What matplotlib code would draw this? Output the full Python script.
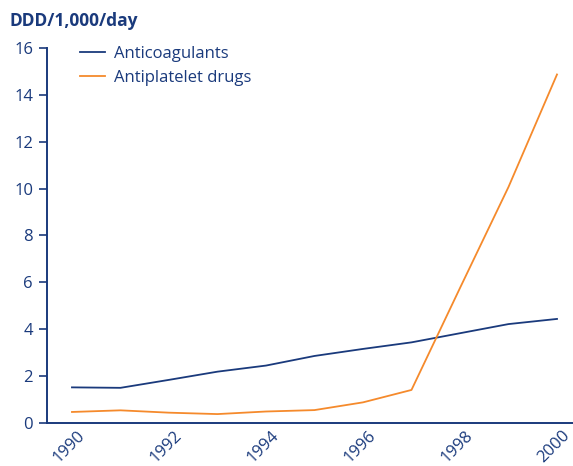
import numpy as np
import matplotlib.pyplot as plt
import matplotlib.transforms as mtransforms

years = [1990, 1991, 1992, 1993, 1994, 1995, 1996, 1997, 1998, 1999, 2000]
anticoagulants = [1.52, 1.50, 1.84, 2.19, 2.45, 2.86, 3.16, 3.44, 3.83, 4.22, 4.44]
antiplatelet = [0.47, 0.54, 0.44, 0.38, 0.49, 0.55, 0.88, 1.41, 5.76, 10.07, 14.87]
yticks = [0, 2, 4, 6, 8, 10, 12, 14, 16]
xticks = [1990, 1992, 1994, 1996, 1998, 2000]

navy = '#1a3a7c'
orange = '#f58a2c'
plt.rcParams['font.family'] = ['Open Sans', 'DejaVu Sans']

fig = plt.figure(figsize=(5.73, 4.66), dpi=100)
ax = fig.add_axes([0.082, 0.0923, 0.918, 0.8047])
ax.plot(years, anticoagulants, color=navy, lw=1.3, label='Anticoagulants')
ax.plot(years, antiplatelet, color=orange, lw=1.3, label='Antiplatelet drugs')

ax.set_xlim(1989.485, 2000.33)
ax.set_ylim(0, 16)
ax.set_yticks(yticks)
ax.set_xticks(xticks)
ax.set_xticklabels([str(x) for x in xticks], rotation=45, ha='right',
                   rotation_mode='anchor', fontsize=12, color=navy)
ax.tick_params(axis='x', length=0, pad=2)
# nudge the rotated year labels to the right like the original
offset = mtransforms.ScaledTranslation(5 / 100, -2 / 100, fig.dpi_scale_trans)
for lab in ax.get_xticklabels():
    lab.set_transform(lab.get_transform() + offset)
ax.tick_params(axis='y', length=6, width=1.2, color=navy, labelcolor=navy,
               labelsize=12, pad=4)
for s in ['top', 'right']:
    ax.spines[s].set_visible(False)
for s in ['left', 'bottom']:
    ax.spines[s].set_color(navy)
    ax.spines[s].set_linewidth(1.4)

leg = ax.legend(loc='upper left', bbox_to_anchor=(0.035, 1.045), frameon=False,
                fontsize=12, handlelength=1.5, handletextpad=0.5,
                labelspacing=0.45)
for t in leg.get_texts():
    t.set_color(navy)

fig.text(0.017, 0.955, 'DDD/1,000/day', fontsize=12.5, fontweight='bold',
         color=navy, va='center')

fig.savefig('out.png', dpi=100)
